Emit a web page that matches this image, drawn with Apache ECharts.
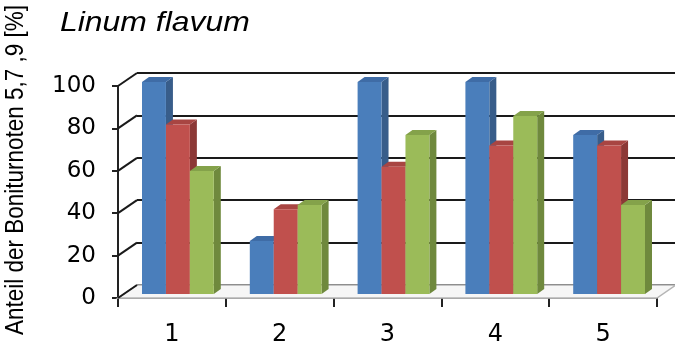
<!DOCTYPE html>
<html>
<head>
<meta charset="utf-8">
<script src="https://cdn.jsdelivr.net/npm/echarts@6/dist/echarts.min.js"></script>
<style>
  html, body { margin: 0; padding: 0; background: #fff; }
  #chart { width: 675px; height: 351px; }
</style>
</head>
<body>
<div id="chart"></div>
<script>
// Share of rating scores 5, 7, 9 per variant
const categories = ['1', '2', '3', '4', '5'];
const blueVals = [100, 25, 100, 100, 75];
const redVals = [80, 40, 60, 70, 70];
const greenVals = [58, 42, 75, 84, 42];
const yTicks = [0, 20, 40, 60, 80, 100];

const FONT = 'Arial, "Liberation Sans", sans-serif';
const WIDE_FONT = '"DejaVu Sans", Arial, sans-serif';

// pseudo-3D depth of the plot box and the bars
const WALL_DX = 19, WALL_DY = -13;     // front plane -> back wall
const BAR_OFF_DX = 6, BAR_OFF_DY = -4; // front plane -> bar front face
const BAR_DX = 7, BAR_DY = -5;         // bar depth

const palettes = [
  { front: '#4a7ebb', top: '#3f6ca6', side: '#385d8a' },
  { front: '#c0504d', top: '#a84542', side: '#8c3836' },
  { front: '#9bbb59', top: '#84a24a', side: '#6f893d' }
];

function barSeries(values, k) {
  const pal = palettes[k];
  return {
    type: 'custom',
    xAxisIndex: 0, yAxisIndex: 0,
    z: 10 + k,
    data: values.map((v, i) => [i, v]),
    renderItem: function (params, api) {
      const idx = api.value(0);
      const val = api.value(1);
      const band = api.size([1, 0])[0];
      const w = band * 0.222;
      const c = api.coord([idx, val]);
      const b = api.coord([idx, 0]);
      const x = c[0] - 1.5 * w + k * w + BAR_OFF_DX;
      const yt = c[1] + BAR_OFF_DY;
      const yb = b[1] + BAR_OFF_DY;
      return {
        type: 'group',
        children: [
          { type: 'polygon', shape: { points: [[x + w, yt], [x + w + BAR_DX, yt + BAR_DY], [x + w + BAR_DX, yb + BAR_DY], [x + w, yb]] },
            style: { fill: pal.side } },
          { type: 'polygon', shape: { points: [[x, yt], [x + w, yt], [x + w + BAR_DX, yt + BAR_DY], [x + BAR_DX, yt + BAR_DY]] },
            style: { fill: pal.top } },
          { type: 'rect', shape: { x: x, y: yt, width: w, height: yb - yt },
            style: { fill: pal.front } }
        ]
      };
    }
  };
}

const option = {
  animation: false,
  backgroundColor: '#fff',
  graphic: [
    {
      // chart title
      type: 'text',
      x: 60, y: 23,
      scaleX: 1.14,
      style: {
        text: 'Linum flavum',
        fontFamily: FONT, fontStyle: 'italic', fontSize: 28, fill: '#000',
        align: 'left', verticalAlign: 'middle'
      }
    },
    {
      // value axis title
      type: 'text',
      x: 16, y: 170,
      rotation: Math.PI / 2,
      scaleY: 1.12,
      style: {
        text: 'Anteil der Boniturnoten 5,7 ,9 [%]',
        fontFamily: FONT, fontSize: 22.5, fill: '#000',
        align: 'center', verticalAlign: 'middle'
      }
    }
  ],
  grid: [
    { left: 118, right: 18, top: 86, bottom: 53 },   // front plane
    { left: 137, right: 0, top: 73, bottom: 66 }     // back wall
  ],
  xAxis: [
    {
      type: 'category', gridIndex: 0, data: categories,
      axisLine: { lineStyle: { color: '#8a8a8a', width: 2 } },
      axisTick: { show: true, length: 9, lineStyle: { color: '#222', width: 2 } },
      axisLabel: { fontFamily: WIDE_FONT, fontSize: 24, color: '#000', margin: 25 }
    },
    { type: 'category', gridIndex: 1, data: categories, show: false }
  ],
  yAxis: [
    {
      type: 'value', gridIndex: 0, min: 0, max: 100, interval: 20,
      axisLine: { show: true, lineStyle: { color: '#222', width: 2 } },
      axisTick: { show: true, length: 6, lineStyle: { color: '#222', width: 2 } },
      splitLine: { show: false },
      axisLabel: { fontFamily: WIDE_FONT, fontSize: 23, color: '#000', margin: 22 }
    },
    {
      type: 'value', gridIndex: 1, min: 0, max: 100, interval: 20,
      axisLine: { show: false }, axisTick: { show: false }, axisLabel: { show: false },
      splitLine: { show: true, lineStyle: { color: '#1a1a1a', width: 2 } }
    }
  ],
  series: [
    {
      // floor and the diagonal edges joining front axis and back wall
      type: 'custom',
      xAxisIndex: 0, yAxisIndex: 0,
      z: 1,
      data: yTicks.map(v => [0, v]),
      renderItem: function (params, api) {
        const cs = params.coordSys;
        const y = api.coord([0, api.value(1)])[1];
        const x0 = cs.x;
        const children = [];
        if (api.value(1) === 0) {
          const x1 = cs.x + cs.width;
          children.push({
            type: 'polygon',
            shape: { points: [[x0, y], [x1, y], [x1 + WALL_DX, y + WALL_DY], [x0 + WALL_DX, y + WALL_DY]] },
            style: { fill: '#f6f6f6', stroke: '#b5b5b5', lineWidth: 1.5 }
          });
        }
        children.push({
          type: 'line',
          shape: { x1: x0, y1: y, x2: x0 + WALL_DX, y2: y + WALL_DY },
          style: { stroke: '#1a1a1a', lineWidth: 2 }
        });
        return { type: 'group', children: children };
      }
    },
    barSeries(blueVals, 0),
    barSeries(redVals, 1),
    barSeries(greenVals, 2)
  ]
};

const chart = echarts.init(document.getElementById('chart'), null, { renderer: 'canvas' });
chart.setOption(option);
</script>
</body>
</html>
